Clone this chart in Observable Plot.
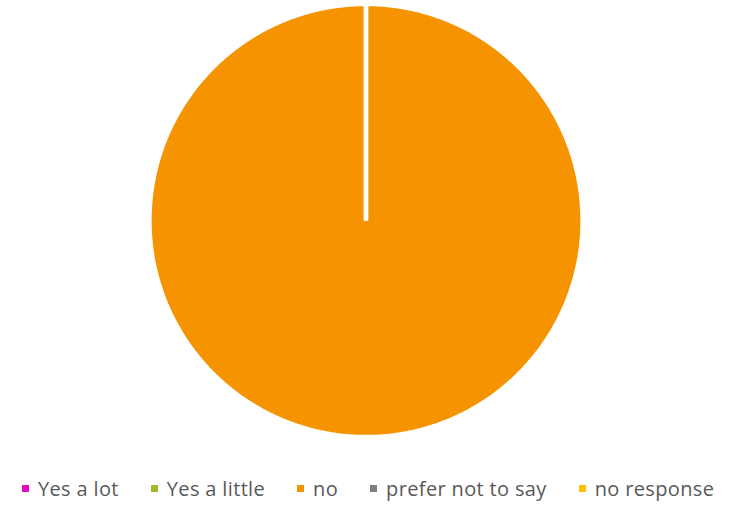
<!DOCTYPE html>
<html>
<head>
<meta charset="utf-8">
<script src="https://cdn.jsdelivr.net/npm/d3@7"></script>
<script src="https://cdn.jsdelivr.net/npm/@observablehq/plot@0.6"></script>
<style>
  html, body { margin: 0; padding: 0; background: #fff; }
  #chart { width: 731px; }
  .legend { display: flex; justify-content: flex-start; align-items: flex-start; height: 35px;
    box-sizing: border-box; padding-top: 8.5px; padding-left: 22px;
    font-family: "Open Sans", "Noto Sans", sans-serif; font-size: 20px; line-height: 20px;
    letter-spacing: 0.35px; color: #595959; white-space: nowrap; }
  .legend .item { display: flex; align-items: flex-start; margin-right: 32px; }
  .legend .sw { width: 7px; height: 7px; margin-top: 6.5px; margin-right: 9px; flex: none; }
</style>
</head>
<body>
<div id="chart"></div>
<script>
const categories = ["Yes a lot", "Yes a little", "no", "prefer not to say", "no response"];
const values = [0, 0, 100, 0, 0];
const colors = ["#E20FC2", "#9DBB2C", "#F59300", "#808080", "#FFC000"];

const arcs = d3.pie().sort(null).value(d => d.value)(categories.map((c, i) => ({key: c, value: values[i]})));
const pts = [];
for (const a of arcs) {
  const k = a.data.key;
  pts.push({key: k, x: 0, y: 0});
  const n = Math.max(1, Math.ceil((a.endAngle - a.startAngle) / 0.01));
  for (let j = 0; j <= n; j++) {
    const t = a.startAngle + (a.endAngle - a.startAngle) * j / n;
    pts.push({key: k, x: Math.sin(t), y: Math.cos(t)});
  }
}

const W = 731, H = 470, cx = 365.5, cy = 220, R = 216.5;
const plot = Plot.plot({
  width: W, height: H,
  marginLeft: cx - R, marginRight: W - cx - R,
  marginTop: cy - R, marginBottom: H - cy - R,
  x: {domain: [-1, 1], axis: null},
  y: {domain: [-1, 1], axis: null},
  color: {domain: categories, range: colors},
  marks: [
    Plot.line(pts, {x: "x", y: "y", z: "key", fill: "key", stroke: "white", strokeWidth: 4.3, strokeLinejoin: "miter", curve: "linear-closed"})
  ]
});
document.getElementById("chart").append(plot);

const leg = document.createElement("div");
leg.className = "legend";
categories.forEach((c, i) => {
  const it = document.createElement("div"); it.className = "item";
  const sw = document.createElement("span"); sw.className = "sw"; sw.style.background = colors[i];
  const tx = document.createElement("span"); tx.textContent = c;
  it.append(sw, tx); leg.append(it);
});
document.getElementById("chart").append(leg);
</script>
</body>
</html>
